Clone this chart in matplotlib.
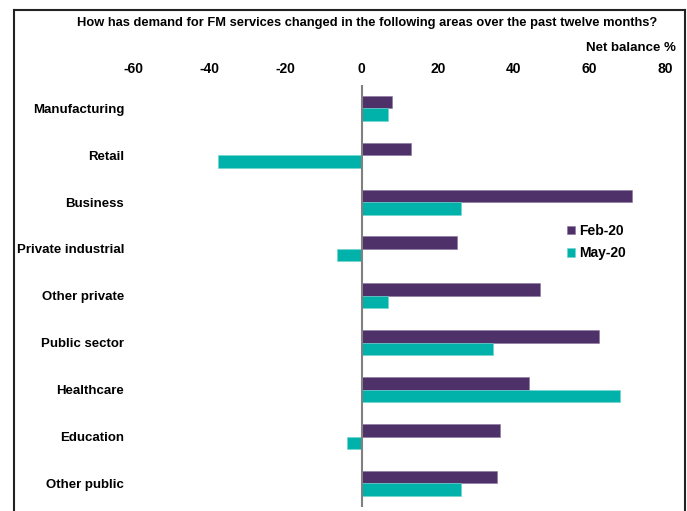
import numpy as np
import matplotlib.pyplot as plt
from matplotlib.lines import Line2D
from matplotlib import font_manager

# pick a narrow font if it exists
names = {f.name for f in font_manager.fontManager.ttflist}
fam = 'Liberation Sans Narrow' if 'Liberation Sans Narrow' in names else 'Liberation Sans'
plt.rcParams['font.family'] = [fam, 'DejaVu Sans']
plt.rcParams['font.weight'] = 'bold'

categories = ['Manufacturing', 'Retail', 'Business', 'Private industrial', 'Other private',
              'Public sector', 'Healthcare', 'Education', 'Other public']
feb20 = [8, 13, 71, 25, 47, 62.5, 44, 36.5, 35.5]
may20 = [7, -38, 26, -6.5, 7, 34.5, 68, -4, 26]
xticks = [-60, -40, -20, 0, 20, 40, 60, 80]

purple = '#4E3169'
teal = '#00B2AA'

fig = plt.figure(figsize=(6.87, 5.11), dpi=100)
ax = fig.add_axes([0.195, 0.008, 0.774, 0.826])

y = np.arange(len(categories))
h = 0.267
ax.barh(y - h / 2, feb20, height=h, color=purple, label='Feb-20', edgecolor='#8a76a0', linewidth=0.4)
ax.barh(y + h / 2, may20, height=h, color=teal, label='May-20', edgecolor='#6fd3cc', linewidth=0.4)

ax.set_xlim(-60, 80)
ax.set_ylim(8.5, -0.5)
ax.axvline(0, color='#808080', lw=1.5, zorder=3)

for s in ax.spines.values():
    s.set_visible(False)
ax.xaxis.tick_top()
ax.set_xticks(xticks)
ax.set_xticklabels([str(t) for t in xticks], fontsize=10, fontweight='bold')
ax.tick_params(axis='x', length=0, pad=6)
ax.set_yticks(y)
ax.set_yticklabels(categories, fontsize=9.5, fontweight='bold')
ax.tick_params(axis='y', length=0, pad=7)

leg = ax.legend(loc='upper left', bbox_to_anchor=(0.79, 0.7), frameon=False,
                handlelength=0.6, handleheight=0.6, handletextpad=0.3,
                labelspacing=0.6, fontsize=10)

fig.text(0.535, 0.955, 'How has demand for FM services changed in the following areas over the past twelve months?',
         ha='center', va='center', fontsize=9.3, fontweight='bold')
fig.text(0.984, 0.907, 'Net balance %', ha='right', va='center', fontsize=9.5, fontweight='bold')

# outer frame
fig.add_artist(Line2D([14 / 687, 14 / 687], [0, 1 - 10 / 511], color='#222222', lw=1.5))
fig.add_artist(Line2D([14 / 687, 685 / 687], [1 - 10 / 511, 1 - 10 / 511], color='#222222', lw=1.5))
fig.add_artist(Line2D([685 / 687, 685 / 687], [0, 1 - 10 / 511], color='#222222', lw=1.5))

fig.savefig('out.png', dpi=100)
